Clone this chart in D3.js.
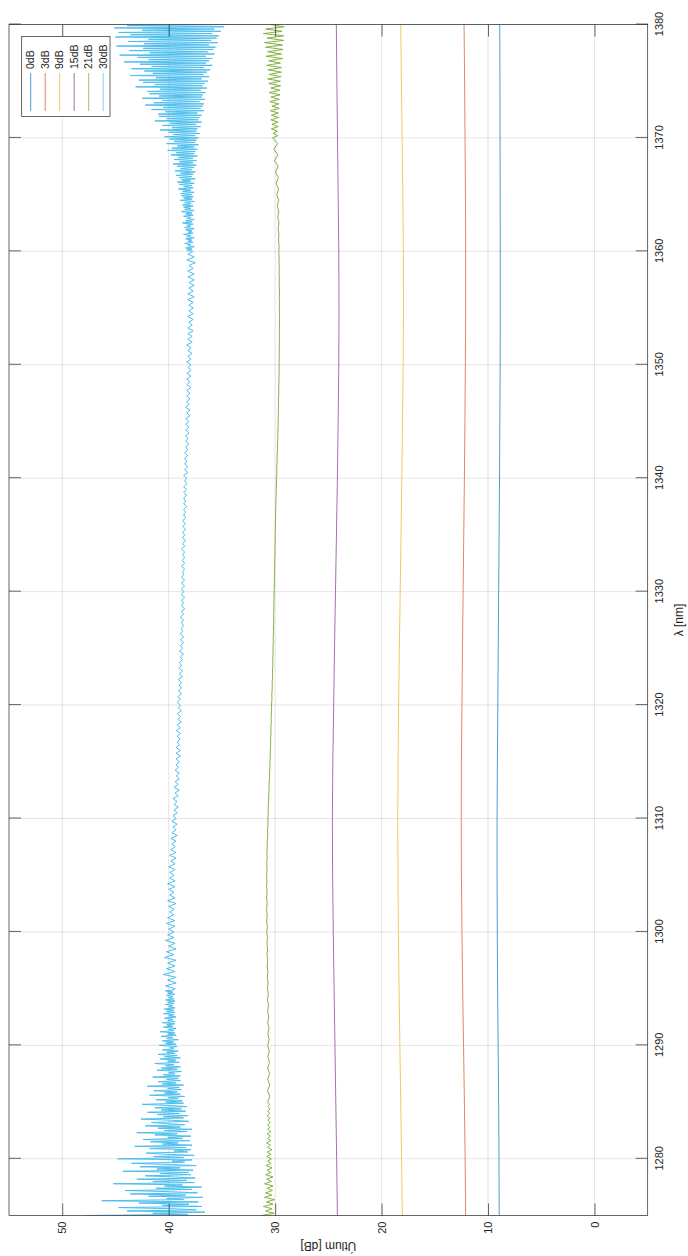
<!DOCTYPE html>
<html><head><meta charset="utf-8">
<script src="https://cdn.jsdelivr.net/npm/d3@7"></script>
<style>
body{margin:0;background:#fff}
svg text{font-family:"Liberation Sans",Arial,Helvetica,sans-serif;fill:#262626}
</style>
</head><body>
<svg id="c" width="688" height="1256"></svg>
<script>
// ---------- data ----------
const lambdaTicks = [1280,1290,1300,1310,1320,1330,1340,1350,1360,1370,1380];
const dbTicks = [0,10,20,30,40,50];
const seriesNames = ["0dB","3dB","9dB","15dB","21dB","30dB"];
const seriesColors = ["#0072BD","#D95319","#EDB120","#7E2F8E","#77AC30","#4DBEEE"];

// smooth traces, sampled every 5 nm from 1275 to 1380
const smoothLambda = [1275,1280,1285,1290,1295,1300,1305,1310,1315,1320,1325,1330,1335,1340,1345,1350,1355,1360,1365,1370,1375,1380];
const att0dB  = [8.95,8.97,9.0,9.05,9.1,9.13,9.15,9.15,9.12,9.08,9.04,9.0,8.96,8.92,8.89,8.86,8.85,8.85,8.86,8.87,8.88,8.9];
const att3dB  = [12.1,12.15,12.22,12.3,12.38,12.45,12.5,12.52,12.5,12.45,12.4,12.34,12.28,12.22,12.17,12.13,12.1,12.1,12.12,12.16,12.2,12.25];
const att9dB  = [18.05,18.12,18.2,18.28,18.36,18.42,18.46,18.48,18.45,18.4,18.33,18.25,18.17,18.1,18.03,17.97,17.94,17.95,18.0,18.07,18.14,18.2];
const att15dB = [24.15,24.22,24.3,24.38,24.46,24.54,24.6,24.62,24.58,24.5,24.42,24.33,24.24,24.15,24.08,24.02,24.0,24.02,24.08,24.14,24.2,24.25];

// 21dB trace in three pieces: [start, step] + values
const att21dB_lo = [ // 1275.0 .. 1284.8, step 0.2
31.3,30.1,30.9,30.3,31.1, 30.2,30.8,30.05,31.0,30.3, 30.9,30.25,30.75,30.2,31.0,
30.35,30.8,30.2,30.9,30.4, 30.75,30.3,30.85,30.4,30.7, 30.35,30.8,30.4,30.75,30.3,
30.7,30.45,30.8,30.4,30.7, 30.45,30.75,30.4,30.7,30.5, 30.72,30.45,30.68,30.5,30.75,
30.5,30.7,30.48,30.68,30.52
];
const att21dB_mid = [ // 1285.0 .. 1369.5, step 0.5
30.7,30.5, 30.72,30.5, 30.7,30.52, 30.7,30.53, 30.68,30.55,
30.7,30.56, 30.68,30.58, 30.7,30.6, 30.7,30.62, 30.72,30.64,
30.72,30.66, 30.74,30.68, 30.75,30.7, 30.76,30.71, 30.77,30.72,
30.78,30.73, 30.79,30.74, 30.8,30.75, 30.8,30.76, 30.8,30.76,
30.8,30.76, 30.79,30.75, 30.77,30.73, 30.74,30.7, 30.71,30.67,
30.68,30.64, 30.65,30.61, 30.61,30.57, 30.57,30.53, 30.53,30.49,
30.49,30.45, 30.46,30.42, 30.43,30.39, 30.4,30.36, 30.37,30.33,
30.34,30.3, 30.31,30.27, 30.28,30.24, 30.25,30.21, 30.22,30.19,
30.2,30.17, 30.18,30.15, 30.16,30.13, 30.14,30.11, 30.12,30.09,
30.1,30.07, 30.08,30.05, 30.06,30.03, 30.04,30.01, 30.02,29.99,
30.0,29.97, 29.98,29.95, 29.96,29.93, 29.93,29.9, 29.9,29.87,
29.87,29.84, 29.84,29.81, 29.81,29.78, 29.78,29.75, 29.75,29.72,
29.72,29.7, 29.7,29.68, 29.68,29.66, 29.66,29.64, 29.64,29.62,
29.63,29.61, 29.62,29.6, 29.61,29.59, 29.61,29.59, 29.6,29.58,
29.61,29.59, 29.61,29.59, 29.62,29.6, 29.63,29.61, 29.64,29.62,
29.66,29.63, 29.68,29.64, 29.72,29.64, 29.75,29.65, 29.8,29.66,
29.84,29.68, 29.9,29.7, 29.96,29.72, 30.05,29.74, 30.12,29.76
];
const att21dB_hi = [ // 1370.0 .. 1380.0, step 0.2
30.25,29.75,30.2,29.8,30.35, 29.7,30.3,29.75,30.4,29.65, 30.35,29.7,30.45,29.6,30.3,
29.65,30.5,29.6,30.4,29.55, 30.55,29.55,30.4,29.5,30.6, 29.5,30.7,29.45,30.55,29.4,
30.65,29.4,30.8,29.5,30.6, 29.3,30.85,29.4,30.7,29.25, 30.9,29.3,31.0,29.2,30.75,
29.2,31.1,29.35,30.9,29.15, 30.5
];

// 30dB trace in three pieces
const att30dB_lo = [ // 1275.0 .. 1294.9, step 0.1
47.8,38.2,41.5,36.6,43.9,37.4,39.8,44.7,36.9,40.6,
38.1,42.8,37.2,46.3,38.6,40.2,36.8,41.9,38.4,43.6,
37.3,39.9,44.1,37.8,41.2,36.9,40.4,38.7,45.2,37.6,
41.5,38.3,43.0,37.5,39.6,42.2,37.9,40.8,38.1,44.3,
37.7,41.1,38.9,42.7,37.4,40.0,43.5,38.5,39.7,37.8,
44.8,38.6,41.4,37.6,40.3,42.1,38.2,39.5,37.9,41.8,
38.4,43.2,37.8,40.6,39.1,41.7,38.0,42.4,38.7,40.1,
37.9,41.3,39.2,43.0,38.3,40.4,37.8,41.0,38.9,42.2,
38.5,40.2,41.6,38.1,39.7,42.6,38.6,40.5,38.2,41.1,
39.0,42.0,38.4,40.7,38.8,41.3,38.3,39.9,42.5,38.6,
40.3,38.7,41.2,39.1,40.0,38.5,41.8,38.9,40.4,39.2,
41.4,38.8,40.1,39.0,42.0,38.6,40.6,39.3,41.0,38.9,
40.2,39.1,41.5,38.9,40.5,39.4,40.0,38.8,41.1,39.2,
40.7,38.9,40.3,39.5,41.3,39.0,40.1,39.3,40.8,38.9,
40.4,39.2,41.0,39.4,40.2,39.1,40.6,39.5,39.9,39.2,
40.9,39.3,40.3,39.5,40.6,39.1,40.2,39.6,40.7,39.3,
40.1,39.4,40.8,39.5,40.0,39.3,40.5,39.6,40.2,39.4,
40.6,39.4,40.1,39.6,40.4,39.3,40.0,39.5,40.5,39.4,
40.2,39.5,40.4,39.4,40.0,39.6,40.3,39.5,40.1,39.4,
40.3,39.5,40.0,39.6,40.2,39.4,40.1,39.6,40.3,39.5
];
const att30dB_mid = [ // 1295.0 .. 1359.75, step 0.25
39.4,40.3,39.3,40.1, 39.3,40.5,39.4,40.2, 39.4,40.1,39.3,40.4, 39.5,40.2,39.3,40.0, 39.4,40.3,39.5,40.1,
39.5,40.0,39.4,40.2, 39.4,40.1,39.5,39.9, 39.5,40.0,39.3,40.1, 39.4,39.9,39.5,40.0, 39.4,40.1,39.4,39.9,
39.5,39.9,39.4,40.0, 39.4,39.8,39.3,39.9, 39.3,39.8,39.4,39.7, 39.3,39.8,39.2,39.7, 39.3,39.6,39.2,39.7,
39.3,39.6,39.2,39.5, 39.1,39.5,39.2,39.6, 39.1,39.4,39.0,39.5, 39.1,39.4,39.0,39.3, 39.0,39.4,39.1,39.3,
39.0,39.3,38.9,39.3, 38.9,39.3,39.0,39.2, 38.9,39.2,38.9,39.3, 38.9,39.2,38.8,39.1, 38.9,39.2,38.8,39.1,
38.9,39.2,38.9,39.1, 38.8,39.1,38.8,39.0, 38.8,39.1,38.7,39.0, 38.7,39.0,38.8,39.0, 38.7,38.9,38.6,39.0,
38.7,38.9,38.6,38.9, 38.6,38.9,38.7,38.8, 38.6,38.8,38.6,38.9, 38.6,38.8,38.5,38.8, 38.6,38.8,38.5,38.8,
38.6,38.8,38.5,38.8, 38.5,38.8,38.6,38.7, 38.5,38.8,38.5,38.7, 38.5,38.7,38.5,38.8, 38.5,38.7,38.4,38.7,
38.5,38.7,38.4,38.7, 38.4,38.7,38.4,38.6, 38.4,38.6,38.3,38.6, 38.4,38.6,38.3,38.6, 38.3,38.6,38.3,38.5,
38.3,38.6,38.2,38.5, 38.2,38.5,38.3,38.5, 38.2,38.5,38.2,38.4, 38.1,38.4,38.2,38.4, 38.1,38.4,38.1,38.4,
38.1,38.4,38.0,38.3, 38.0,38.4,38.1,38.3, 38.0,38.3,38.0,38.3, 37.9,38.3,38.0,38.3, 37.9,38.3,37.9,38.2,
37.9,38.3,37.9,38.2, 37.8,38.2,37.9,38.3, 37.8,38.2,37.8,38.2, 37.7,38.2,37.8,38.1, 37.7,38.2,37.7,38.1,
37.7,38.1,37.7,38.2, 37.6,38.2,37.7,38.1, 37.6,38.1,37.6,38.2, 37.6,38.2,37.7,38.1, 37.5,38.3,37.6,38.2
];
const att30dB_hi = [ // 1360.0 .. 1380.0, step 0.1
37.7,38.3,37.8,38.4,37.6,38.2,37.9,38.5,37.7,38.2,
37.8,38.4,37.6,38.3,37.9,38.6,37.7,38.2,37.8,38.4,
37.6,38.5,37.9,38.3,37.7,38.7,37.8,38.4,37.6,38.3,
37.9,38.6,37.7,38.4,37.8,38.8,37.6,38.5,37.9,38.6,
37.7,38.7,37.9,38.5,37.6,38.9,37.8,38.6,37.7,38.8,
37.8,38.9,37.6,38.7,37.9,39.1,37.7,38.6,37.8,39.0,
37.6,39.2,37.9,38.8,37.5,39.0,37.8,39.3,37.7,38.9,
37.5,39.4,37.8,38.9,37.6,39.2,37.4,39.6,37.7,39.0,
37.4,39.5,37.7,39.1,37.3,39.8,37.6,39.3,37.5,40.1,
37.3,39.7,37.6,39.2,37.2,40.2,37.5,39.5,37.4,39.9,
37.2,40.4,37.5,39.6,37.1,40.0,37.4,40.8,37.3,39.7,
37.0,40.6,37.4,39.9,36.9,41.3,37.2,40.2,37.1,40.9,
36.9,41.0,37.3,40.3,36.7,41.6,37.0,40.5,36.8,42.2,
36.7,41.4,37.1,40.6,36.6,42.5,36.9,40.9,36.8,41.8,
36.5,42.0,37.0,40.8,36.4,43.1,36.8,41.3,36.6,42.4,
36.3,42.8,36.9,41.2,36.2,43.6,36.7,41.5,36.4,42.3,
36.1,43.5,36.7,41.6,35.9,42.7,36.5,44.2,36.2,41.9,
35.9,42.9,36.5,44.6,35.7,41.8,36.3,43.7,35.8,42.4,
35.6,44.9,36.2,42.3,35.4,43.8,36.0,41.9,35.5,45.0,
35.3,43.6,35.9,44.7,35.1,42.5,35.7,45.1,34.8,43.9,
34.3
];

// ---------- layout (drawn in the un-rotated frame, then turned) ----------
const W = 1256, H = 688;
const plotU0 = 40.5, plotU1 = 1231.5, plotV0 = 9, plotV1 = 647.7;

const svg = d3.select("#c");
const g = svg.append("g").attr("transform", `translate(0,${W}) rotate(-90)`);

const x = d3.scaleLinear().domain([1275,1380]).range([plotU0, plotU1]);
const y = d3.scaleLinear().domain([-5,55]).range([plotV1, plotV0]);

g.append("defs").append("clipPath").attr("id","clip")
  .append("rect").attr("x",plotU0).attr("y",plotV0)
  .attr("width",plotU1-plotU0).attr("height",plotV1-plotV0);

g.append("rect").attr("x",plotU0).attr("y",plotV0)
  .attr("width",plotU1-plotU0).attr("height",plotV1-plotV0).attr("fill","#fff");

// grid
const grid = g.append("g").attr("stroke","#262626").attr("stroke-opacity",0.15).attr("stroke-width",0.8);
grid.selectAll("line.gx").data(lambdaTicks).join("line")
  .attr("x1",d=>x(d)).attr("x2",d=>x(d)).attr("y1",plotV0).attr("y2",plotV1);
grid.selectAll("line.gy").data(dbTicks).join("line")
  .attr("x1",plotU0).attr("x2",plotU1).attr("y1",d=>y(d)).attr("y2",d=>y(d));

// helpers to turn [start, step, values] pieces into points
function pts(start, step, vals){ return vals.map((v,k)=>[start + k*step, v]); }

const series21 = [].concat(
  pts(1275, 0.2, att21dB_lo),
  pts(1285, 0.5, att21dB_mid),
  pts(1370, 0.2, att21dB_hi));
const series30 = [].concat(
  pts(1275, 0.1, att30dB_lo),
  pts(1295, 0.25, att30dB_mid),
  pts(1360, 0.1, att30dB_hi));

// data
const line = d3.line().x(d=>x(d[0])).y(d=>y(d[1]));
const dataG = g.append("g").attr("clip-path","url(#clip)").attr("fill","none");
const smoothSets = [att0dB, att3dB, att9dB, att15dB];
smoothSets.forEach((vals,i)=>{
  dataG.append("path").datum(vals.map((v,k)=>[smoothLambda[k],v]))
    .attr("d",line).attr("stroke",seriesColors[i]).attr("stroke-width",0.7);
});
dataG.append("path").datum(series21)
  .attr("d",line).attr("stroke",seriesColors[4]).attr("stroke-width",0.9);
dataG.append("path").datum(series30)
  .attr("d",line).attr("stroke",seriesColors[5]).attr("stroke-width",1.0);

// axes
const axCol = "#262626";
function styleAxis(sel){
  sel.select(".domain").remove();
  sel.selectAll(".tick line").attr("stroke",axCol).attr("stroke-width",0.7);
  sel.selectAll(".tick text").attr("fill",axCol).style("font-size","11px");
}
g.append("g").attr("transform",`translate(0,${plotV1})`)
  .call(d3.axisBottom(x).tickValues(lambdaTicks).tickSizeInner(-12).tickSizeOuter(0).tickPadding(8).tickFormat(d3.format("d")))
  .call(styleAxis);
g.append("g").attr("transform",`translate(0,${plotV0})`)
  .call(d3.axisTop(x).tickValues(lambdaTicks).tickSizeInner(-12).tickSizeOuter(0).tickFormat(""))
  .call(styleAxis);
g.append("g").attr("transform",`translate(${plotU0},0)`)
  .call(d3.axisLeft(y).tickValues(dbTicks).tickSizeInner(-12).tickSizeOuter(0).tickPadding(6).tickFormat(d3.format("d")))
  .call(styleAxis);
g.append("g").attr("transform",`translate(${plotU1},0)`)
  .call(d3.axisRight(y).tickValues(dbTicks).tickSizeInner(-12).tickSizeOuter(0).tickFormat(""))
  .call(styleAxis);

// box
g.append("rect").attr("x",plotU0).attr("y",plotV0)
  .attr("width",plotU1-plotU0).attr("height",plotV1-plotV0)
  .attr("fill","none").attr("stroke",axCol).attr("stroke-width",0.7);

// axis labels
g.append("text").attr("x",(plotU0+plotU1)/2).attr("y",679).attr("dy","0.35em")
  .attr("text-anchor","middle").style("font-size","12px").text("λ [nm]");
g.append("text").attr("transform",`translate(9.5,${(plotV0+plotV1)/2}) rotate(-90)`)
  .attr("dy","0.35em").attr("text-anchor","middle").style("font-size","12px").text("Útlum [dB]");

// legend
const lg = g.append("g");
lg.append("rect").attr("x",1139.5).attr("y",21.7).attr("width",80).attr("height",88.3)
  .attr("fill","#fff").attr("stroke",axCol).attr("stroke-width",0.7);
seriesNames.forEach((name,i)=>{
  const v = 30.7 + i*14.5;
  lg.append("line").attr("x1",1145).attr("x2",1183).attr("y1",v).attr("y2",v)
    .attr("stroke",seriesColors[i]).attr("stroke-width",0.7);
  lg.append("text").attr("x",1187).attr("y",v).attr("dy","0.35em")
    .style("font-size","10.5px").text(name);
});
</script>
</body></html>
